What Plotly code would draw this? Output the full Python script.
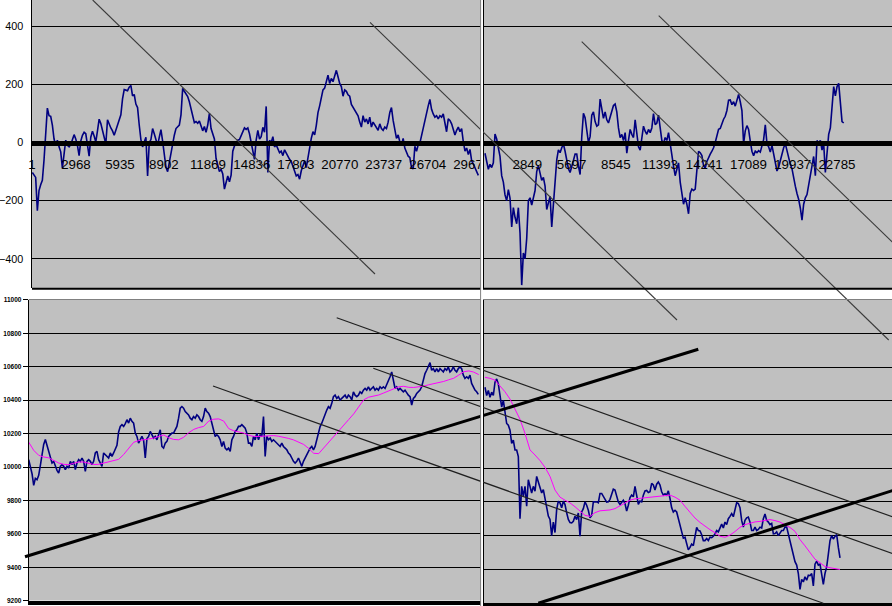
import numpy as np
import plotly.graph_objects as go

# ---------------- data ----------------
# top chart: oscillator, left series (index range of samples)
TL_IDX = (23, 30118)
TL_OSC = [
    -103, -110, -120, -234, -165, -145, -130, -60, 33, 118,
    92, 90, 60, 12, -10, 8, -15, -32, -88, -30,
    8, -10, -15, -7, 14, 27, 12, -10, -45, 5,
    25, 35, 30, -10, -47, 18, 39, 22, 2, 40,
    80, 65, 42, 15, -5, 78, 61, 50, 40, 25,
    42, 60, 78, 95, 150, 182, 180, 178, 190, 196,
    160, 165, 132, 120, 60, 10, -15, 5, 18, -115,
    0, 10, 48, 30, 8, -10, 18, 44, 5, -50,
    -85, -100, -65, -38, -5, 25, 48, 55, 60, 95,
    186, 176, 165, 158, 140, 115, 82, 68, 72, 66,
    74, 58, 40, 55, 35, 60, 100, 48, 28, 12,
    -55, -78, -100, -92, -108, -160, -140, -115, -135, -112,
    -30, -12, -7, 8, 10, 25, 42, 50, 45, 50,
    30, 2, -20, -58, 8, 42, 12, 20, 52, 35,
    124, -103, 8, 0, 20, -15, -8, -25, -35, -30,
    -45, -25, -38, -48, -58, -65, -82, -103, -115, -110,
    -126,
    -97, -80, -63, -86, -52, -8, 14, 37, 26, 59,
    103, 126, 153, 181, 187, 214, 231, 203, 220, 209,
    231, 248, 226, 203, 192, 159, 181, 176, 164, 159,
    131, 120, 114, 98, 92, 70, 53, 92, 70, 81,
    64, 87, 53, 70, 59, 53, 42, 64, 48, 42,
    53, 48, 70, 103, 120, 76, 37, 14, 26, 3,
    -8, 14, -19, -36, -47, -52, -86, -91, -13, -30,
    -8, -2, 26, 42, 70, 98, 126, 148, 114, 98,
    87, 92, 81, 92, 87, 98, 70, 37, 81, 76,
    64, 48, 26, 42, 53, 37, 48, 3, -30, -19,
    -41, -24, -63, -74, -86, -102, -113,
]

# top chart: oscillator, right series
TR_IDX = (123, 23220)
TR_OSC = [
    -37, -70, -92, -75, -86, -70, 29, 12, -15, -48,
    -114, -136, -180, -200, -162, -191, -290, -224, -257, -279,
    -224, -312, -490, -380, -400, -330, -200, -190, -215, -190,
    -165, -100, -80, -105, -130, -120, -150, -230, -210, -185,
    -290, -215, -150, -60, -25, -35, -18, -5, -30, -65,
    -90, -103, -85, -62, -40, -40, -80, -110, 20, 100,
    85, 35, 0, 20,
    94, 105, 72, 56, 61, 149, 116, 83, 105, 78,
    67, 89, 105, 127, 132, 105, 50, 17, 28, 7,
    34, -37, 7, 45, 28, 17, 78, 39, -15, -26,
    17, 56, 39, 28, 45, 34, 50, 99, 61, 67,
    94, 50, 7, -4, 17, 7, 34, -4, -48, -81,
    -114, -92, -70, -136, -168, -212, -190, -212, -245, -175,
    -160, -165, -160, -90, -30, -35, -45, -80, -88, -65,
    -50, -40, -30, -18, 0, 20, 45, 48, 65, 80,
    90, 110, 145, 146, 130, 140, 125, 150, 165, 140,
    110, -4, 40, 58, 45, 5, -30, -45, -30, -35,
    -28, -33, -10, 10, 61, -4, -15, -33, -10, -40,
    -65, -98, -85, -62, -40, -18, -4, -30, -55, -75,
    -90, -125, -150, -175, -195, -225, -267, -212, -190, -179,
    -146, -114, -92, -48, -114, 7, -4, 7, -26, -4,
    -103, -48, 28, 50, 138, 192, 160, 192, 203, 127,
    72, 67,
]

# bottom chart: price, left series
BL_IDX = (1, 30117)
BL_PRICE = [
    10044, 10000, 9960, 9890, 9932, 9924, 9950, 10010, 10090, 10135,
    10165, 10130, 10100, 10070, 10024, 10034, 10004, 9980, 9964, 10004,
    10014, 10004, 9984, 10004, 9994, 10034, 10014, 10034, 9984, 10024,
    10044, 10034, 10054, 10034, 9974, 10034, 10044, 10034, 10014, 10034,
    10084, 10094, 10044, 10024, 10004, 10084, 10074, 10064, 10054, 10084,
    10064, 10084, 10103, 10130, 10210, 10243, 10253, 10243, 10260, 10283,
    10263, 10292, 10273, 10263, 10203, 10183, 10143, 10163, 10183, 10160,
    10054, 10170, 10183, 10213, 10193, 10173, 10183, 10163, 10193, 10223,
    10123, 10113, 10143, 10153, 10183, 10193, 10203, 10203, 10223, 10243,
    10292, 10352, 10362, 10352, 10332, 10322, 10312, 10292, 10283, 10302,
    10292, 10312, 10302, 10283, 10273, 10302, 10352, 10332, 10322, 10302,
    10263, 10213, 10183, 10193, 10183, 10163, 10123, 10153, 10113, 10103,
    10113, 10094, 10163, 10183, 10213, 10223, 10243, 10243, 10253, 10243,
    10233, 10203, 10143,
    10143, 10123, 10183, 10163, 10202, 10163, 10192, 10183, 10302, 10063,
    10183, 10163, 10173, 10153, 10163, 10153, 10143, 10133, 10123, 10143,
    10123, 10113, 10103, 10083, 10073, 10054, 10034, 10024, 10034, 10054,
    10024, 10004, 10034, 10054, 10073, 10103, 10113, 10123, 10103, 10123,
    10163, 10212, 10242, 10262, 10292, 10311, 10341, 10361, 10351, 10381,
    10421, 10430, 10411, 10421, 10401, 10411, 10421, 10430, 10411, 10430,
    10421, 10401, 10450, 10430, 10421, 10430, 10450, 10440, 10460, 10470,
    10460, 10480, 10460, 10470, 10480, 10460, 10470, 10460, 10480, 10470,
    10480, 10470, 10490, 10520, 10540, 10569, 10520, 10470, 10480, 10460,
    10470, 10460, 10450, 10460, 10440, 10430, 10421, 10371, 10411, 10421,
    10440, 10450, 10460, 10480, 10530, 10559, 10579, 10599, 10625, 10579,
    10589, 10569, 10589, 10569, 10589, 10579, 10569, 10589, 10579, 10599,
    10569, 10579, 10599, 10579, 10569, 10589, 10599, 10589, 10550, 10530,
    10540, 10530, 10550, 10500, 10480, 10460, 10450, 10435,
]
BL_MA_IDX = (1, 30143)
BL_MA = [
    10149, 10100, 10070, 10060, 10055, 10040, 10024, 10016, 10014, 10022,
    10030, 10030, 10022, 10015, 10016, 10024, 10032, 10038, 10046, 10075,
    10113, 10148, 10158, 10163, 10168, 10173, 10183, 10192, 10175, 10165,
    10163, 10178, 10205, 10225, 10236, 10243, 10275, 10286, 10288, 10275,
    10230, 10217, 10210, 10203, 10190,
    10183, 10183, 10184, 10186, 10188, 10184, 10179, 10171, 10162, 10150,
    10135, 10111, 10082, 10080, 10115, 10145, 10180, 10218, 10254, 10284,
    10318, 10359, 10402, 10418, 10425, 10431, 10443, 10456, 10470, 10480,
    10483, 10477, 10476, 10478, 10484, 10492, 10498, 10503, 10512, 10522,
    10531, 10550, 10570, 10575, 10568, 10553,
]

# bottom chart: price, right series
BR_IDX = (123, 23220)
BR_PRICE = [
    10480, 10431, 10461, 10421, 10451, 10431, 10510, 10529, 10500, 10441,
    10363, 10402, 10314, 10265, 10255, 10225, 10147, 10167, 10108, 10108,
    10069, 9700, 9892, 9833, 9892, 9775, 9931, 9892, 9853, 9892,
    9863, 9951, 9922, 9892, 9853, 9873, 9814, 9775, 9716, 9696,
    9600, 9680, 9618, 9755, 9804, 9794, 9765, 9804, 9784, 9735,
    9696, 9677,
    9675, 9685, 9714, 9695, 9734, 9596, 9740, 9760, 9800, 9780,
    9750, 9705, 9720, 9800, 9800, 9800, 9795, 9850, 9850, 9835,
    9818, 9798, 9800, 9815, 9845, 9875, 9870, 9840, 9800, 9785,
    9795, 9810, 9790, 9745, 9780, 9825, 9840, 9830, 9892, 9840,
    9785, 9805, 9800, 9840, 9865, 9868, 9855, 9860, 9910, 9900,
    9870, 9905, 9918, 9900, 9860, 9840, 9848, 9840, 9865, 9820,
    9765, 9740, 9750, 9740, 9705, 9665, 9625, 9585, 9590, 9545,
    9515, 9530, 9550, 9540, 9600, 9648, 9630, 9628, 9605, 9570,
    9570, 9582, 9570, 9590, 9588, 9596, 9610, 9630, 9622, 9650,
    9668, 9645, 9680, 9665, 9700, 9714, 9730, 9712, 9760, 9795,
    9790, 9765, 9690, 9650, 9690, 9705, 9710, 9680, 9630, 9630,
    9650, 9630, 9636, 9650, 9645, 9700, 9728, 9690, 9680, 9665,
    9672, 9610, 9612, 9622, 9600, 9612, 9630, 9630, 9650, 9650,
    9605, 9565, 9525, 9485, 9445, 9425, 9375, 9281, 9340, 9325,
    9355, 9335, 9365, 9362, 9375, 9301, 9430, 9448, 9425, 9430,
    9370, 9310, 9375, 9415, 9490, 9570, 9600, 9580, 9595, 9606,
    9530, 9468,
]
BR_MA_IDX = (123, 23220)
BR_MA = [
    10539, 10533, 10522, 10490, 10453, 10410, 10353, 10290, 10206, 10108,
    10078, 10045, 10005, 9951, 9870, 9828, 9810, 9794,
    9771, 9744, 9720, 9714, 9736, 9747, 9750, 9752, 9760, 9778,
    9795, 9810, 9818, 9821, 9824, 9827, 9830, 9835, 9839, 9840,
    9828, 9810, 9773, 9736, 9704, 9678, 9655, 9635, 9617, 9596,
    9590, 9603, 9624, 9649, 9665, 9675, 9681, 9684, 9689, 9695,
    9689, 9680, 9664, 9648, 9625, 9576, 9539, 9497, 9460, 9439,
    9416, 9409, 9406, 9399,
]

# category-axis tick labels
TL_TICKS = [1, 2968, 5935, 8902, 11869, 14836, 17803, 20770, 23737, 26704, 29671]
TR_TICKS = [2849, 5697, 8545, 11393, 14241, 17089, 19937, 22785, 25633]

# trend lines: top ones in left-oscillator units, bottom ones in left-price units
TOP_LINES = [
    ((4097, 489.7), (23146, -451.9)),
    ((22808, 413.1), (43524, -610.0)),
    ((37093, 346.4), (57808, -678.7)),
    ((42289, 435.7), (58571, -367.4)),
]
BOTTOM_THIN_LINES = [
    ((12346, 10484.8), (53228, 9184.5)),
    ((20632, 10893.5), (58366, 9685.5)),
    ((23084, 10590.7), (58366, 9466.3)),
]
BOTTOM_THICK_LINES = [
    ((-247, 9463.3), (44853, 10704.4)),
    ((34137, 9184.5), (58366, 9873.2)),
]

# ---------------- layout geometry ----------------
W, H = 892, 606


def xdom(a, b):
    return [a / W, b / W]


def ydom(top, bottom):
    return [(H - bottom) / H, (H - top) / H]


TL_XD, TR_XD = xdom(32, 481), xdom(484, 892)
BL_XD, BR_XD = xdom(28.7, 481), xdom(484, 892)
TOP_YD = ydom(0, 288)
BL_YD = ydom(299.9, 600.7)
BR_YD = ydom(299.6, 603.0)

TL_XR = [1, 30298]
TR_XR = [59, 26330]
BL_XR = [1, 30298]
BR_XR = [58, 26603]
TOP_YR = [-500, 489.7]
BOT_YR = [9200, 11000]


def extend(rng, dom):
    r0, r1 = rng
    d0, d1 = dom
    k = (r1 - r0) / (d1 - d0)
    return [r0 - d0 * k, r1 + (1 - d1) * k]


zero_pos = TOP_YD[0] + (0 - TOP_YR[0]) / (TOP_YR[1] - TOP_YR[0]) * (TOP_YD[1] - TOP_YD[0])

NAVY = "#000080"
MAGENTA = "#FF00FF"
GRAY_BG = "#C0C0C0"
FONT = "Liberation Sans"

fig = go.Figure()


def idx(rng, n):
    return np.linspace(rng[0], rng[1], n)


fig.add_trace(go.Scatter(x=idx(TL_IDX, len(TL_OSC)), y=TL_OSC, xaxis="x", yaxis="y",
                         mode="lines", line=dict(color=NAVY, width=1.6)))
fig.add_trace(go.Scatter(x=idx(TR_IDX, len(TR_OSC)), y=TR_OSC, xaxis="x2", yaxis="y2",
                         mode="lines", line=dict(color=NAVY, width=1.6)))
fig.add_trace(go.Scatter(x=idx(BL_IDX, len(BL_PRICE)), y=BL_PRICE, xaxis="x3", yaxis="y3",
                         mode="lines", line=dict(color=NAVY, width=1.6)))
fig.add_trace(go.Scatter(x=idx(BL_MA_IDX, len(BL_MA)), y=BL_MA, xaxis="x3", yaxis="y3",
                         mode="lines", line=dict(color=MAGENTA, width=1)))
fig.add_trace(go.Scatter(x=idx(BR_IDX, len(BR_PRICE)), y=BR_PRICE, xaxis="x4", yaxis="y4",
                         mode="lines", line=dict(color=NAVY, width=1.6)))
fig.add_trace(go.Scatter(x=idx(BR_MA_IDX, len(BR_MA)), y=BR_MA, xaxis="x4", yaxis="y4",
                         mode="lines", line=dict(color=MAGENTA, width=1)))

for (a, b) in TOP_LINES:
    fig.add_trace(go.Scatter(x=[a[0], b[0]], y=[a[1], b[1]], xaxis="x5", yaxis="y5",
                             mode="lines", line=dict(color="#3a3a3a", width=1.1)))
for (a, b) in BOTTOM_THIN_LINES:
    fig.add_trace(go.Scatter(x=[a[0], b[0]], y=[a[1], b[1]], xaxis="x6", yaxis="y6",
                             mode="lines", line=dict(color="#202020", width=1.2)))
for (a, b) in BOTTOM_THICK_LINES:
    fig.add_trace(go.Scatter(x=[a[0], b[0]], y=[a[1], b[1]], xaxis="x6", yaxis="y6",
                             mode="lines", line=dict(color="#000000", width=3)))

top_x_common = dict(anchor="free", position=zero_pos, showline=True, linecolor="black",
                    linewidth=4.5, tickmode="array", ticks="outside", ticklen=8,
                    tickcolor="rgba(0,0,0,0)", tickfont=dict(family=FONT, size=13.3, color="black"),
                    showgrid=False, zeroline=False, fixedrange=True, automargin=False)
top_y_common = dict(range=TOP_YR, domain=TOP_YD, tick0=0, dtick=200, showgrid=True,
                    gridcolor="black", gridwidth=1, zeroline=False, showline=True,
                    linecolor="black", linewidth=1, fixedrange=True, automargin=False)
bot_x_common = dict(showline=True, linecolor="black", linewidth=3.5, showticklabels=False,
                    ticks="", showgrid=False, zeroline=False, fixedrange=True, automargin=False)
bot_y_common = dict(range=BOT_YR, tick0=9200, dtick=200, showgrid=True, gridcolor="black",
                    gridwidth=1, zeroline=False, showline=True, linecolor="black",
                    linewidth=1, fixedrange=True, automargin=False, tickformat="d")
hidden = dict(visible=False, showgrid=False, zeroline=False, fixedrange=True, automargin=False)

fig.update_layout(
    width=W, height=H, margin=dict(l=0, r=0, t=0, b=0, pad=0, autoexpand=False),
    paper_bgcolor="white", plot_bgcolor="rgba(0,0,0,0)",
    showlegend=False, hovermode=False,
    xaxis=dict(domain=TL_XD, range=TL_XR, tickvals=TL_TICKS,
               ticktext=[str(v) for v in TL_TICKS], **top_x_common),
    yaxis=dict(anchor="x", ticks="outside", ticklen=5.5, tickcolor="rgba(0,0,0,0)",
               tickfont=dict(family=FONT, size=10.8, color="black"), **top_y_common),
    xaxis2=dict(domain=TR_XD, range=TR_XR, tickvals=TR_TICKS,
                ticktext=[str(v) for v in TR_TICKS], **top_x_common),
    yaxis2=dict(anchor="x2", showticklabels=False, ticks="", **top_y_common),
    xaxis3=dict(domain=BL_XD, range=BL_XR, anchor="y3", **bot_x_common),
    yaxis3=dict(domain=BL_YD, anchor="x3", ticks="outside", ticklen=5, tickcolor="black",
                tickwidth=1,
                tickfont=dict(family=FONT, size=6.5, color="black", weight="bold"),
                **bot_y_common),
    xaxis4=dict(domain=BR_XD, range=BR_XR, anchor="y4", **bot_x_common),
    yaxis4=dict(domain=BR_YD, anchor="x4", showticklabels=False, ticks="", **bot_y_common),
    xaxis5=dict(domain=[0, 1], range=extend(TL_XR, TL_XD), anchor="y5", **hidden),
    yaxis5=dict(domain=[0, 1], range=extend(TOP_YR, TOP_YD), anchor="x5", **hidden),
    xaxis6=dict(domain=[0, 1], range=extend(BL_XR, BL_XD), anchor="y6", **hidden),
    yaxis6=dict(domain=[0, 1], range=extend(BOT_YR, BL_YD), anchor="x6", **hidden),
)

shapes = []
# panel backgrounds (inside each chart's own layer so later charts cover earlier overflow)
for xr, yr, xa, ya in [(TL_XR, TOP_YR, "x", "y"), (TR_XR, TOP_YR, "x2", "y2"),
                       (BL_XR, BOT_YR, "x3", "y3"), (BR_XR, BOT_YR, "x4", "y4")]:
    shapes.append(dict(type="rect", xref=xa, yref=ya, x0=xr[0], x1=xr[1], y0=yr[0], y1=yr[1],
                       fillcolor=GRAY_BG, line=dict(width=0), layer="below"))
# lower edge of the top charts
shapes.append(dict(type="line", xref="paper", yref="paper", x0=TL_XD[0], x1=1,
                   y0=TOP_YD[0] - 0.8 / H, y1=TOP_YD[0] - 0.8 / H,
                   line=dict(color="black", width=2), layer="above"))
# upper edge of the bottom charts
shapes.append(dict(type="line", xref="paper", yref="paper", x0=BL_XD[0], x1=1,
                   y0=BL_YD[1] + 0.4 / H, y1=BL_YD[1] + 0.4 / H,
                   line=dict(color="#808080", width=1), layer="above"))
# gap between the two side-by-side charts
shapes.append(dict(type="rect", xref="paper", yref="paper", x0=481 / W, x1=483 / W, y0=0, y1=1,
                   fillcolor="white", line=dict(width=0), layer="above"))
shapes.append(dict(type="line", xref="paper", yref="paper", x0=480.6 / W, x1=480.6 / W,
                   y0=0, y1=1, line=dict(color="#808080", width=1), layer="above"))
fig.update_layout(shapes=shapes)

# the page's default body margin would shift the figure; remove it
fig.write_html("out.html", config={"displayModeBar": False},
               post_script="document.body.style.margin='0';document.body.style.overflow='hidden';")
